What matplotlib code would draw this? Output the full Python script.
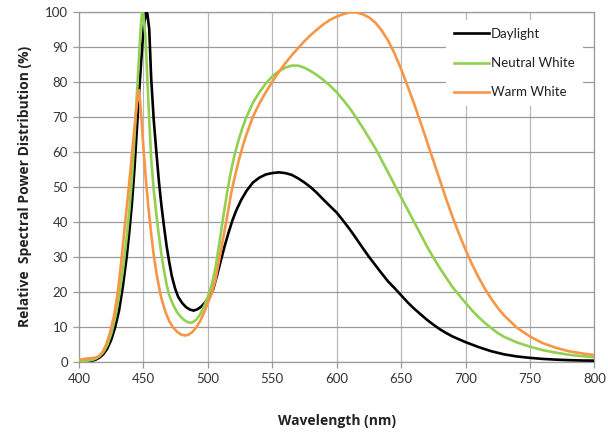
import matplotlib
matplotlib.use('Agg')
import matplotlib.pyplot as plt

# ---------------------------------------------------------------- data
daylight_nm = [400, 405, 410, 413, 416, 419, 422, 425, 428, 431, 434, 437, 439, 441, 443,
               445, 447, 449, 450.5, 452, 453, 454.5, 456, 458, 460, 462, 464, 466, 468,
               470, 472, 474.5, 477, 480, 483, 486, 489, 492, 495, 498, 501, 504, 507,
               510, 513, 516, 519, 522, 526, 530, 535, 540, 545, 550, 555, 560, 565, 570,
               575, 580, 585, 590, 595, 600, 605, 610, 615, 620, 625, 630, 635, 640, 645,
               650, 655, 660, 665, 670, 675, 680, 685, 690, 695, 700, 710, 720, 730, 740,
               750, 760, 770, 780, 790, 800]
daylight = [0.1, 0.1, 0.3, 0.6, 1.2, 2.2, 3.8, 6.3, 9.8, 14.5, 21.5, 30, 37, 45, 55,
            67, 79, 90, 96.5, 99.8, 99.5, 95, 81, 69, 60, 51.5, 44.5, 38.5, 33,
            28.5, 24.5, 21, 18.5, 16.8, 15.6, 14.9, 14.6, 15, 15.8, 17, 18.6, 20.5, 24.5,
            28.8, 33, 36.8, 40.3, 43.2, 46.3, 48.8, 51.2, 52.6, 53.5, 53.9, 54.1, 53.9, 53.4, 52.4,
            51.2, 49.8, 48.1, 46.2, 44.4, 42.6, 40.3, 37.9, 35.3, 32.6, 30, 27.6, 25.2, 22.9, 21,
            19, 17, 15.2, 13.6, 12, 10.6, 9.3, 8.2, 7.2, 6.4, 5.6, 4.2, 3.0, 2.1, 1.5,
            1.1, 0.8, 0.6, 0.45, 0.35, 0.3]

neutral_nm = [400, 405, 410, 413, 416, 419, 422, 425, 428, 431, 434, 437, 439, 441, 443,
              445, 447, 448, 449, 450, 451.5, 453, 454.5, 456, 458, 460.5, 462, 464, 466,
              468, 470, 473, 476, 479, 482, 485, 488, 491, 494, 497, 500, 503, 506, 509,
              512, 515, 518, 521, 524, 527, 530, 535, 540, 545, 550, 555, 560, 565, 570,
              575, 580, 585, 590, 595, 600, 605, 610, 615, 620, 625, 630, 635, 640, 645,
              650, 655, 660, 665, 670, 675, 680, 685, 690, 695, 700, 705, 710, 715, 720,
              725, 730, 740, 750, 760, 770, 780, 790, 800]
neutral = [0.1, 0.2, 0.5, 0.9, 1.6, 2.8, 4.8, 8, 12.5, 18.5, 26, 35.5, 43, 52, 64,
           77, 90, 96, 99.8, 99, 93, 81, 69, 58, 49, 40.5, 36, 30.5, 26,
           22, 19, 16.3, 14.2, 12.8, 11.8, 11.2, 11.2, 12, 13.5, 15.8, 18.5, 22, 27, 34,
           41.5, 48.5, 54.5, 59.5, 63.5, 67, 70, 74, 77, 79.5, 81.5, 83, 84, 84.6, 84.6,
           84, 83, 81.8, 80.4, 78.8, 77, 74.8, 72.5, 69.8, 67, 64, 61, 57.5, 54, 50.5,
           47, 43.5, 40, 36.5, 33, 29.8, 26.8, 24, 21.3, 19, 16.8, 14.7, 12.8, 11.1, 9.6,
           8.2, 7.1, 5.5, 4.3, 3.3, 2.6, 2.0, 1.6, 1.3]

warm_nm = [400, 403, 406, 409, 412, 415, 418, 421, 424, 427, 430, 432, 434, 436, 438,
           440, 442, 444, 445.5, 446.5, 447.5, 448.5, 450, 452, 454, 456, 458, 460, 462,
           464, 467, 470, 473, 476, 479, 482, 485, 488, 491, 494, 497, 500, 503, 506,
           509, 512, 515, 518, 521, 524, 527, 530, 535, 540, 545, 550, 555, 560, 565,
           570, 575, 580, 585, 590, 595, 600, 605, 610, 615, 620, 625, 630, 635, 640,
           645, 650, 655, 660, 665, 670, 675, 680, 685, 690, 695, 700, 705, 710, 715,
           720, 725, 730, 740, 750, 760, 770, 780, 790, 800]
warm = [0.5, 0.7, 0.9, 1.0, 1.1, 1.5, 2.6, 4.8, 8.2, 12.8, 19.5, 26, 33, 40.5, 47.5,
        55, 63, 70.5, 75.5, 77.6, 74, 69, 61, 51.5, 43.5, 36.5, 30.5, 25.5, 21.5,
        18, 14.3, 11.6, 9.8, 8.6, 7.8, 7.5, 7.7, 8.5, 9.8, 11.6, 14, 16.8, 19.5, 23.5,
        29.5, 35.5, 41.5, 48, 53, 57.5, 61.5, 65, 70, 73.8, 77, 80, 82.7, 85.2, 87.5,
        89.6, 91.6, 93.4, 95, 96.5, 97.7, 98.6, 99.3, 99.8, 99.8, 99.3, 98.4, 96.9, 94.6, 91.7,
        88, 83.6, 78.8, 73.8, 68.5, 63, 57.5, 52, 46.5, 41.3, 36.5, 32, 27.9, 24.2, 20.9,
        18, 15.4, 13.2, 9.7, 7.2, 5.3, 4, 3, 2.4, 1.9]

x_ticks = [400, 450, 500, 550, 600, 650, 700, 750, 800]
y_ticks = [0, 10, 20, 30, 40, 50, 60, 70, 80, 90, 100]

# ---------------------------------------------------------------- plot
plt.rcParams['font.family'] = ['Lato', 'DejaVu Sans']

fig = plt.figure(figsize=(6.08, 4.32), dpi=100)
ax = fig.add_axes([0.130, 0.1627, 0.8475, 0.8102])

ax.plot(daylight_nm, daylight, color='#000000', lw=1.9, label='Daylight', zorder=3)
ax.plot(neutral_nm, neutral, color='#92d050', lw=1.9, label='Neutral White', zorder=3)
ax.plot(warm_nm, warm, color='#f79646', lw=1.9, label='Warm White', zorder=3)

ax.set_xlim(400, 800)
ax.set_ylim(0, 100)
ax.set_xticks(x_ticks)
ax.set_yticks(y_ticks)

ax.grid(axis='y', color='#9a9a9a', lw=0.9)
ax.grid(axis='x', color='#b8b8b8', lw=0.9)
ax.set_axisbelow(True)
for s in ax.spines.values():
    s.set_color('#9a9a9a')
    s.set_linewidth(0.9)

ax.tick_params(axis='both', direction='out', length=4, width=0.9, color='#9a9a9a',
               labelsize=9.5, labelcolor='#333333', pad=4)

ax.set_xlabel('Wavelength (nm)', fontsize=10, fontweight='bold', color='#222222',
              labelpad=21, family=['Open Sans', 'DejaVu Sans'])
ax.set_ylabel('Relative  Spectral Power Distribution (%)', fontsize=10, fontweight='bold',
              color='#222222', labelpad=9, family=['Open Sans', 'DejaVu Sans'])

leg = ax.legend(loc='upper left', bbox_to_anchor=(0.70, 0.995), frameon=True, fontsize=9.5,
                handlelength=2.6, handletextpad=0.2, labelspacing=1.3, borderpad=0.6)
leg.get_frame().set_facecolor('white')
leg.get_frame().set_edgecolor('none')
leg.get_frame().set_alpha(1)
leg.get_frame().set_boxstyle('square', pad=0)
for t in leg.get_texts():
    t.set_color('#222222')

fig.savefig('out.png', dpi=100)
